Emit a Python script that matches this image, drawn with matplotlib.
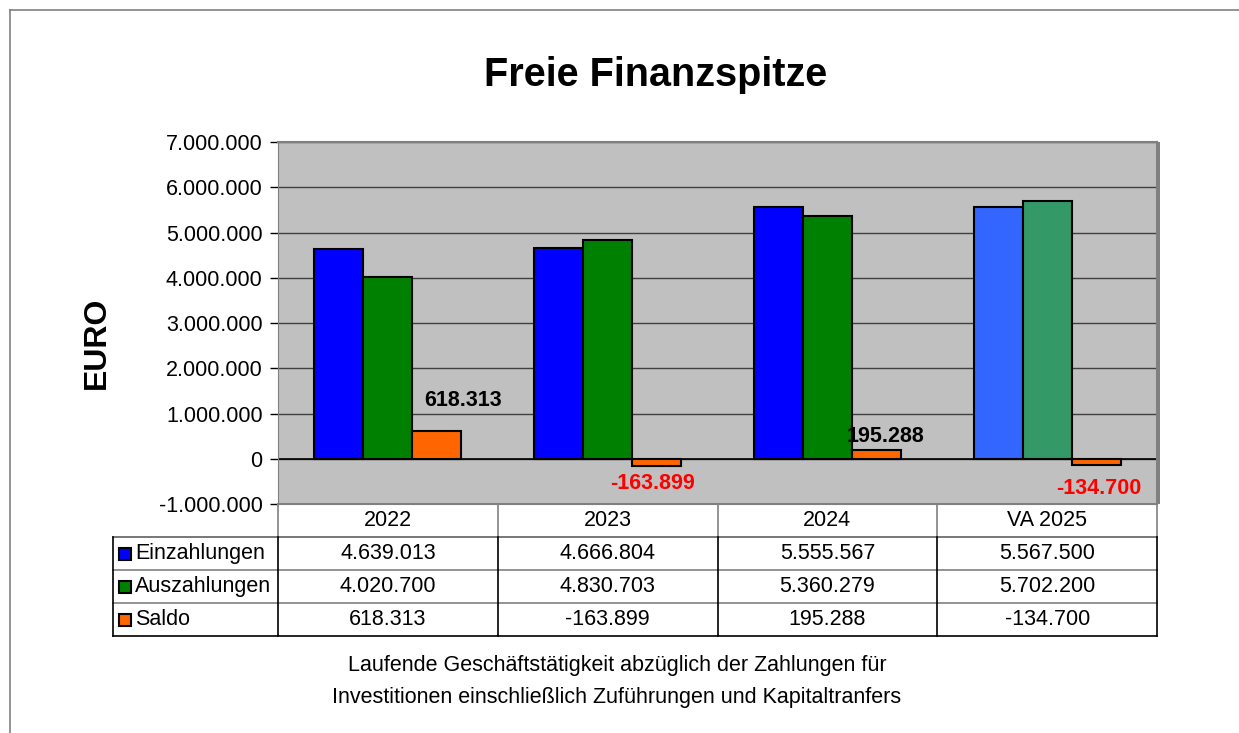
import numpy as np
import matplotlib.pyplot as plt
from matplotlib.patches import Rectangle
from matplotlib.lines import Line2D

plt.rcParams['font.family'] = ['Liberation Sans', 'DejaVu Sans']

# Daten
jahre = ['2022', '2023', '2024', 'VA 2025']
einzahlungen = [4639013, 4666804, 5555567, 5567500]
auszahlungen = [4020700, 4830703, 5360279, 5702200]
saldo = [618313, -163899, 195288, -134700]
reihen = ['Einzahlungen', 'Auszahlungen', 'Saldo']

farben_ein = ['#0000FF', '#0000FF', '#0000FF', '#3366FF']
farben_aus = ['#008000', '#008000', '#008000', '#339966']
farbe_saldo = '#FF6600'
legend_farben = ['#0000FF', '#008000', '#FF6600']


def fmt(v):
    return f"{v:,}".replace(',', '.')


W, H = 1239, 733
fig = plt.figure(figsize=(W / 100, H / 100), dpi=100)

# Rahmen der Grafik
fig.add_artist(Line2D([10 / W, 1], [1 - 10 / H, 1 - 10 / H], color='#808080', lw=1.2))
fig.add_artist(Line2D([10 / W, 10 / W], [0, 1 - 10 / H], color='#808080', lw=1.2))

ax = fig.add_axes([278 / W, 1 - 504 / H, 879 / W, 362 / H])
ax.set_facecolor('#C0C0C0')

x = np.arange(len(jahre))
w = 0.223
ax.bar(x - w, einzahlungen, w, color=farben_ein, edgecolor='black', lw=1.5, zorder=3)
ax.bar(x, auszahlungen, w, color=farben_aus, edgecolor='black', lw=1.5, zorder=3)
ax.bar(x + w, saldo, w, color=farbe_saldo, edgecolor='black', lw=1.5, zorder=3)

ax.set_xlim(-0.5, 3.5)
ax.set_ylim(-1000000, 7000000)
ax.set_yticks(np.arange(-1000000, 7000001, 1000000))
ax.set_yticklabels([fmt(v) for v in range(-1000000, 7000001, 1000000)], fontsize=15.5)
ax.set_xticks([])
ax.tick_params(axis='y', length=6, width=1, pad=5)
ax.grid(axis='y', color='#404040', lw=1, zorder=1)
ax.axhline(0, color='black', lw=1.2, zorder=2)
for s in ['top', 'right', 'bottom']:
    ax.spines[s].set_color('#808080')
    ax.spines[s].set_linewidth(1.5)
ax.spines['left'].set_color('#808080')

# Schatten rechts
fig.add_artist(Rectangle((1157 / W, 1 - 504 / H), 3 / W, 362 / H, color='#808080', lw=0))

# Datenbeschriftungen Saldo (Versatz in Punkten)
dx = [18.7, -3, 6.5, 2]
dy = [21.6, -12.7, 9.4, -17.3]
for i, v in enumerate(saldo):
    ax.annotate(fmt(v), (x[i] + w, v), xytext=(dx[i], dy[i]), textcoords='offset points',
                ha='center', va='center', fontsize=15.5, fontweight='bold',
                color='black' if v >= 0 else '#FF0000')

fig.text(97 / W, 1 - 343 / H, 'EURO', rotation=90, ha='center', va='center',
         fontsize=23, fontweight='bold')
fig.text(656 / W, 1 - 75 / H, 'Freie Finanzspitze', ha='center', va='center', fontsize=28.5, fontweight='bold')

# Datentabelle
rh = 33 / 362
lx = -165 / 879
tr = ax.transAxes
kw = dict(transform=tr, clip_on=False)
fs = 15.5

# Kopfzeile
for j, jahr in enumerate(jahre):
    ax.text(j * 0.25 + 0.125, -rh / 2, jahr, ha='center', va='center', fontsize=fs, **kw)
for j in range(0, 5):
    ax.add_line(Line2D([j * 0.25, j * 0.25], [0, -rh], color='#808080', lw=1.2, **kw))

werte = [einzahlungen, auszahlungen, saldo]
for i, (name, reihe) in enumerate(zip(reihen, werte)):
    yc = -rh * (i + 1.5)
    ax.add_line(Line2D([lx, 1], [-rh * (i + 1), -rh * (i + 1)], color='#808080' if i > 0 else '#606060', lw=1.2, **kw))
    ax.add_patch(Rectangle((lx + 6 / 879, yc - 6 / 362), 12 / 879, 12 / 362, facecolor=legend_farben[i],
                           edgecolor='black', lw=1.5, transform=tr, clip_on=False))
    ax.text(lx + 22 / 879, yc, name, ha='left', va='center', fontsize=fs, **kw)
    for j, v in enumerate(reihe):
        ax.text(j * 0.25 + 0.125, yc, fmt(v), ha='center', va='center', fontsize=fs, **kw)

yb = -rh * 4
ax.add_line(Line2D([lx, 1], [yb, yb], color='black', lw=1.2, **kw))
ax.add_line(Line2D([lx, lx], [-rh, yb], color='black', lw=1.2, **kw))
for j in range(0, 5):
    ax.add_line(Line2D([j * 0.25, j * 0.25], [-rh, yb], color='black', lw=1.2, **kw))

fig.text(617 / W, 1 - 665 / H, 'Laufende Geschäftstätigkeit abzüglich der Zahlungen für',
         ha='center', va='center', fontsize=15.5)
fig.text(617 / W, 1 - 697 / H, 'Investitionen einschließlich Zuführungen und Kapitaltranfers',
         ha='center', va='center', fontsize=15.5)

fig.savefig('out.png', dpi=100)
